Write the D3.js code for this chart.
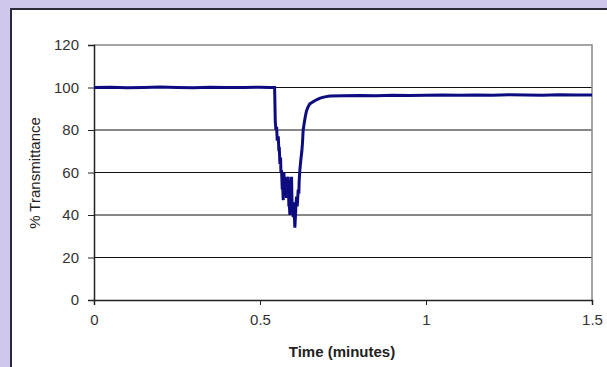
<!DOCTYPE html>
<html><head><meta charset="utf-8">
<script src="https://cdn.jsdelivr.net/npm/d3@7"></script>
<style>
html,body{margin:0;padding:0;background:#cfc8ec;overflow:hidden}
svg{display:block}
</style></head><body>
<svg id="c" width="607" height="367"></svg>
<script>
// Data (time in minutes, % transmittance)
const times  = [0, 0.05, 0.1, 0.15, 0.2, 0.25, 0.3, 0.35, 0.4, 0.45, 0.5, 0.53, 0.544, 0.546, 0.548, 0.550, 0.552, 0.555, 0.557, 0.558, 0.560, 0.562, 0.563, 0.565, 0.567, 0.568, 0.570, 0.572, 0.574, 0.575, 0.577, 0.578, 0.580, 0.582, 0.583, 0.585, 0.587, 0.588, 0.590, 0.592, 0.593, 0.595, 0.597, 0.598, 0.600, 0.602, 0.603, 0.605, 0.607, 0.608, 0.610, 0.612, 0.613, 0.615, 0.617, 0.618, 0.620, 0.623, 0.626, 0.628, 0.630, 0.633, 0.636, 0.640, 0.645, 0.650, 0.655, 0.660, 0.670, 0.681, 0.695, 0.711, 0.75, 0.8, 0.85, 0.9, 0.95, 1.0, 1.05, 1.1, 1.15, 1.2, 1.25, 1.3, 1.35, 1.4, 1.45, 1.5];
const transm = [100, 100.1, 99.9, 100, 100.2, 100, 99.9, 100.1, 100, 100, 100.1, 100, 100, 84, 80, 81.5, 75, 77, 70, 72, 64, 67, 60, 61, 52, 55, 47, 60, 53, 58, 50, 52, 48, 57, 56, 58, 44, 46, 40, 55, 52, 58, 42, 45, 39, 46, 42, 34, 40, 44, 48.6, 44, 46, 52, 50, 56, 61, 66, 70, 74, 80, 83, 86, 89, 91, 92.3, 92.8, 93.3, 94.2, 95, 95.6, 96, 96.1, 96.2, 96.1, 96.3, 96.2, 96.4, 96.5, 96.3, 96.5, 96.4, 96.6, 96.5, 96.4, 96.6, 96.5, 96.5];
const xTicks = [0, 0.5, 1, 1.5];
const xTickLabels = ["0", "0.5", "1", "1.5"];
const yTicks = [0, 20, 40, 60, 80, 100, 120];
const xTitle = "Time (minutes)";
const yTitle = "% Transmittance";

const FONT = "Liberation Sans, Arial, sans-serif";
const svg = d3.select("#c");
// white panel
svg.append("rect").attr("x", 11).attr("y", 9).attr("width", 620).attr("height", 380)
  .attr("fill", "#fff").attr("stroke", "#2a2a3a").attr("stroke-width", 2);

const x = d3.scaleLinear().domain([0, 1.5]).range([94, 592]);
const y = d3.scaleLinear().domain([0, 120]).range([300, 45]);

// gridlines
svg.append("g").selectAll("line").data(yTicks.filter(d => d > 0 && d < 120)).join("line")
  .attr("x1", x(0)).attr("x2", x(1.5)).attr("y1", d => y(d)).attr("y2", d => y(d))
  .attr("stroke", "#111").attr("stroke-width", 1);

// plot border (top, right) grey
svg.append("path")
  .attr("d", `M${x(0)},${y(120)}H${x(1.5)}V${y(0)}`)
  .attr("fill", "none").attr("stroke", "#888").attr("stroke-width", 1.5);

// axes
const yAxis = d3.axisLeft(y).tickValues(yTicks).tickSize(6).tickPadding(9);
const gy = svg.append("g").attr("transform", `translate(${x(0)},0)`).call(yAxis);
const xAxis = d3.axisBottom(x).tickValues(xTicks).tickFormat((d, i) => xTickLabels[i]).tickSize(5).tickPadding(9);
const gx = svg.append("g").attr("transform", `translate(0,${y(0)})`).call(xAxis);
[gx, gy].forEach(g => {
  g.select(".domain").attr("stroke", "#222").attr("stroke-width", 1.5);
  g.selectAll(".tick line").attr("stroke", "#222");
  g.selectAll("text").attr("font-family", FONT)
    .attr("font-size", 15).attr("fill", "#333");
});

// line
const line = d3.line().x((d, i) => x(times[i])).y(d => y(d));
svg.append("path").datum(transm).attr("d", line)
  .attr("fill", "none").attr("stroke", "#0c0c80").attr("stroke-width", 3)
  .attr("stroke-linejoin", "miter").attr("stroke-miterlimit", 2);

// titles
svg.append("text").attr("x", 342).attr("y", 357).attr("text-anchor", "middle")
  .attr("font-family", FONT).attr("font-size", 15)
  .attr("font-weight", "bold").attr("fill", "#222").text(xTitle);
svg.append("text").attr("transform", "translate(40,173) rotate(-90)").attr("text-anchor", "middle")
  .attr("font-family", FONT).attr("font-size", 15)
  .attr("fill", "#222").text(yTitle);
</script>
</body></html>
